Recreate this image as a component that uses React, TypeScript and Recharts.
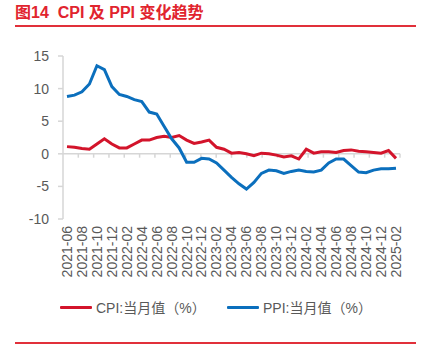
import { LineChart, Line, XAxis, YAxis, ReferenceLine } from "recharts";

const months = [
  "2021-06", "2021-07", "2021-08", "2021-09", "2021-10", "2021-11", "2021-12",
  "2022-01", "2022-02", "2022-03", "2022-04", "2022-05", "2022-06", "2022-07",
  "2022-08", "2022-09", "2022-10", "2022-11", "2022-12", "2023-01", "2023-02",
  "2023-03", "2023-04", "2023-05", "2023-06", "2023-07", "2023-08", "2023-09",
  "2023-10", "2023-11", "2023-12", "2024-01", "2024-02", "2024-03", "2024-04",
  "2024-05", "2024-06", "2024-07", "2024-08", "2024-09", "2024-10", "2024-11",
  "2024-12", "2025-01", "2025-02",
];

const cpi = [
  1.1, 1.0, 0.8, 0.7, 1.5, 2.3, 1.5, 0.9, 0.9, 1.5, 2.1, 2.1, 2.5, 2.7, 2.5,
  2.8, 2.1, 1.6, 1.8, 2.1, 1.0, 0.7, 0.1, 0.2, 0.0, -0.3, 0.1, 0.0, -0.2, -0.5,
  -0.3, -0.8, 0.7, 0.1, 0.3, 0.3, 0.2, 0.5, 0.6, 0.4, 0.3, 0.2, 0.1, 0.5, -0.7,
];

const ppi = [
  8.8, 9.0, 9.5, 10.7, 13.5, 12.9, 10.3, 9.1, 8.8, 8.3, 8.0, 6.4, 6.1, 4.2, 2.3,
  0.9, -1.3, -1.3, -0.7, -0.8, -1.4, -2.5, -3.6, -4.6, -5.4, -4.4, -3.0, -2.5,
  -2.6, -3.0, -2.7, -2.5, -2.7, -2.8, -2.5, -1.4, -0.8, -0.8, -1.8, -2.8, -2.9,
  -2.5, -2.3, -2.3, -2.2,
];

const yTicks = [-10, -5, 0, 5, 10, 15];
// category boundaries that carry a small tick on the zero line
const boundaryTicks = [2, 4, 6, 8, 10, 12, 14, 16, 18, 20, 22, 24, 26, 28, 30, 32, 34, 36, 38, 40, 42, 44];

const data = months.map((m, i) => ({ month: m, cpi: cpi[i], ppi: ppi[i] }));

const RED = "#d3142b";
const BLUE = "#0b6fbd";
const GRAY_TEXT = "#595959";
const GRID = "#d6d6d6";
const FONT = '"Liberation Sans", Arial, "Noto Sans CJK SC", sans-serif';

function MonthTick({ x, y, payload }: any) {
  return (
    <text
      x={x}
      y={y}
      transform={`rotate(-90 ${x} ${y})`}
      textAnchor="end"
      dy="0.35em"
      fill={GRAY_TEXT}
      fontSize={14}
      fontFamily={FONT}
    >
      {payload.value}
    </text>
  );
}

function LegendItem({ left, color, label }: { left: number; color: string; label: string }) {
  return (
    <div style={{ position: "absolute", left, top: 298, display: "flex", alignItems: "center", height: 18 }}>
      <div style={{ width: 32, height: 3, background: color, borderRadius: 1 }} />
      <span style={{ marginLeft: 4, fontSize: 14, color: GRAY_TEXT, whiteSpace: "nowrap" }}>{label}</span>
    </div>
  );
}

export default function App() {
  return (
    <div
      style={{
        position: "absolute",
        left: 0,
        top: 0,
        width: 425,
        height: 351,
        background: "#fff",
        fontFamily: FONT,
        overflow: "hidden",
      }}
    >
      <div
        style={{
          position: "absolute",
          left: 15,
          top: 3,
          fontSize: 16,
          fontWeight: 700,
          color: "#e1242e",
          whiteSpace: "pre",
          lineHeight: "20px",
        }}
      >
        {"图14  CPI 及 PPI 变化趋势"}
      </div>
      <div style={{ position: "absolute", left: 15, top: 25, width: 401, height: 2, background: "#e1303a" }} />

      <div style={{ position: "absolute", left: 0, top: 0 }}>
        <LineChart width={425} height={290} data={data} margin={{ top: 56, right: 25, left: 0, bottom: 0 }}>
          <XAxis
            dataKey="month"
            interval={1}
            axisLine={false}
            tickLine={false}
            tickSize={0}
            tickMargin={7}
            height={71}
            padding={{ left: 4, right: 4 }}
            tick={<MonthTick />}
          />
          <XAxis xAxisId="n" type="number" domain={[0, 45]} hide />
          <YAxis
            domain={[-10, 15]}
            ticks={yTicks}
            width={63}
            axisLine={{ stroke: GRID, strokeWidth: 1.5 }}
            tickLine={{ stroke: GRID, strokeWidth: 1.5 }}
            tickSize={5}
            tickMargin={9}
            tick={{ fill: GRAY_TEXT, fontSize: 14, fontFamily: FONT }}
          />
          <ReferenceLine y={0} stroke={GRID} strokeWidth={1.5} />
          {boundaryTicks.map((b) => (
            <ReferenceLine
              key={b}
              xAxisId="n"
              stroke={GRID}
              strokeWidth={1.5}
              segment={[
                { x: b, y: 0 },
                { x: b, y: -0.6 },
              ]}
            />
          ))}
          <Line
            type="linear"
            dataKey="cpi"
            stroke={RED}
            strokeWidth={3}
            dot={false}
            isAnimationActive={false}
          />
          <Line
            type="linear"
            dataKey="ppi"
            stroke={BLUE}
            strokeWidth={3}
            dot={false}
            isAnimationActive={false}
          />
        </LineChart>
      </div>

      <LegendItem left={60} color={RED} label="CPI:当月值（%）" />
      <LegendItem left={227} color={BLUE} label="PPI:当月值（%）" />

      <div style={{ position: "absolute", left: 15, top: 342, width: 401, height: 2, background: "#e1303a" }} />
    </div>
  );
}
